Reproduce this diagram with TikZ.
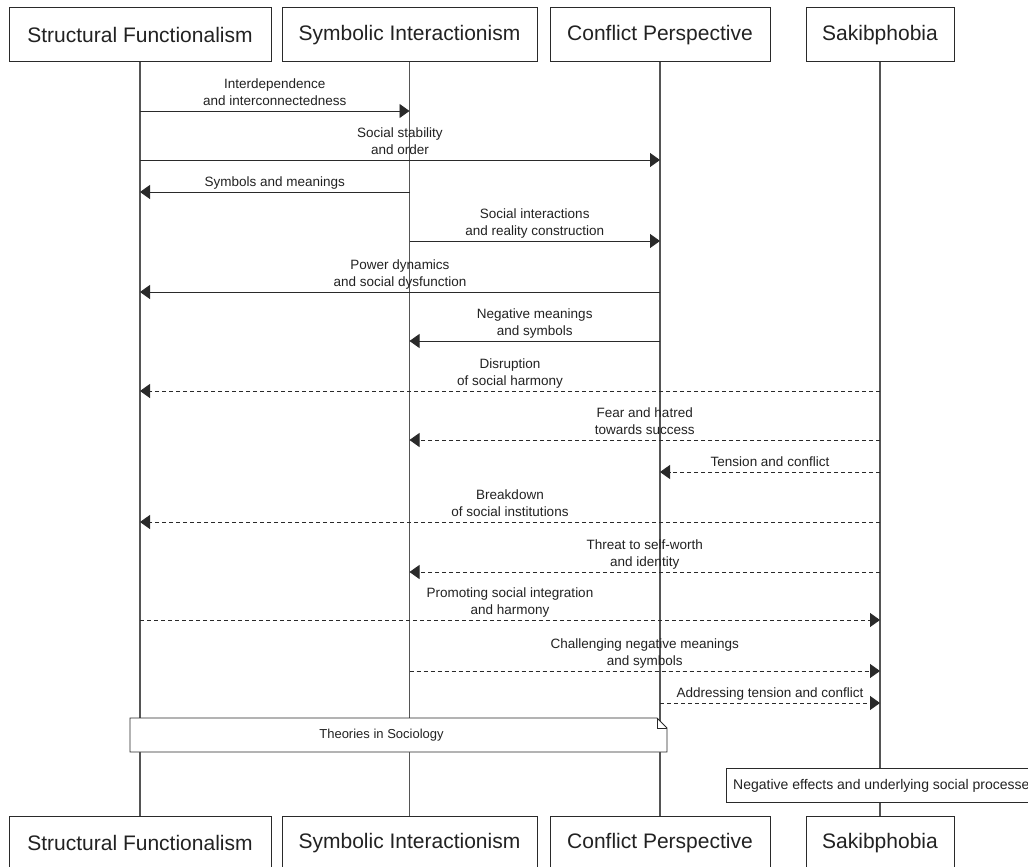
\documentclass[tikz,border=0pt]{standalone}
\usepackage{fontspec}
\setmainfont{Liberation Sans}
\usetikzlibrary{arrows.meta}
\definecolor{txt}{HTML}{222222}
\definecolor{ln}{HTML}{2A2A2A}
\definecolor{life}{HTML}{555555}
\begin{document}
\begin{tikzpicture}[x=1pt,y=-1pt,
  part/.style={draw=ln, line width=1pt, fill=white, minimum height=54pt, inner sep=0pt,
    font=\fontsize{21}{24}\selectfont, text=txt},
  msg/.style={draw=ln, line width=0.9pt, -{Triangle[length=10pt,width=14pt]}},
  dmsg/.style={msg, dash pattern=on 4pt off 3pt},
  lbl/.style={font=\fontsize{13.5}{17}\selectfont, text=txt, align=center, inner sep=0pt,
    anchor=south, text depth=3pt},
  lifeline/.style={draw=life, line width=1.1pt},
  notebox/.style={draw=ln, line width=0.9pt, fill=white},
  notetxt/.style={font=\fontsize{13}{16}\selectfont, text=txt, inner sep=0pt}]

\useasboundingbox (0,0) rectangle (1028,867);
\clip (0,0) rectangle (1028,867);
\fill[white] (0,0) rectangle (1028,867);

% participants (top and bottom)
\node[part, minimum width=262pt] (sfT) at (140,35) {Structural Functionalism};
\node[part, minimum width=255pt] (siT) at (409.5,35) {Symbolic Interactionism};
\node[part, minimum width=220pt] (cpT) at (660,35) {Conflict Perspective};
\node[part, minimum width=148pt] (skT) at (880,35) {Sakibphobia};

\node[part, minimum width=262pt] (sfB) at (140,843) {Structural Functionalism};
\node[part, minimum width=255pt] (siB) at (409.5,843) {Symbolic Interactionism};
\node[part, minimum width=220pt] (cpB) at (660,843) {Conflict Perspective};
\node[part, minimum width=148pt] (skB) at (880,843) {Sakibphobia};

% lifelines
\draw[lifeline] (sfT.south) -- (sfB.north);
\draw[lifeline] (siT.south) -- (siB.north);
\draw[lifeline] (cpT.south) -- (cpB.north);
\draw[lifeline] (skT.south) -- (skB.north);

% message end points on the lifelines
\def\xsf{140}\def\xsi{409.5}\def\xcp{660}\def\xsk{880}
\coordinate (m1a) at (\xsf,111);  \coordinate (m1b) at (\xsi,111);
\coordinate (m2a) at (\xsf,160);  \coordinate (m2b) at (\xcp,160);
\coordinate (m3a) at (\xsi,192);  \coordinate (m3b) at (\xsf,192);
\coordinate (m4a) at (\xsi,241);  \coordinate (m4b) at (\xcp,241);
\coordinate (m5a) at (\xcp,292);  \coordinate (m5b) at (\xsf,292);
\coordinate (m6a) at (\xcp,341);  \coordinate (m6b) at (\xsi,341);
\coordinate (m7a) at (\xsk,391);  \coordinate (m7b) at (\xsf,391);
\coordinate (m8a) at (\xsk,440);  \coordinate (m8b) at (\xsi,440);
\coordinate (m9a) at (\xsk,472);  \coordinate (m9b) at (\xcp,472);
\coordinate (m10a) at (\xsk,522); \coordinate (m10b) at (\xsf,522);
\coordinate (m11a) at (\xsk,572); \coordinate (m11b) at (\xsi,572);
\coordinate (m12a) at (\xsf,620); \coordinate (m12b) at (\xsk,620);
\coordinate (m13a) at (\xsi,671); \coordinate (m13b) at (\xsk,671);
\coordinate (m14a) at (\xcp,703); \coordinate (m14b) at (\xsk,703);

% messages
\draw[msg] (m1a) -- node[lbl, midway, yshift=2.5pt] {Interdependence\\and interconnectedness} (m1b);
\draw[msg] (m2a) -- node[lbl, midway, yshift=2.5pt] {Social stability\\and order} (m2b);
\draw[msg] (m3a) -- node[lbl, midway, yshift=2.5pt] {Symbols and meanings} (m3b);
\draw[msg] (m4a) -- node[lbl, midway, yshift=2.5pt] {Social interactions\\and reality construction} (m4b);
\draw[msg] (m5a) -- node[lbl, midway, yshift=2.5pt] {Power dynamics\\and social dysfunction} (m5b);
\draw[msg] (m6a) -- node[lbl, midway, yshift=2.5pt] {Negative meanings\\and symbols} (m6b);
\draw[dmsg] (m7a) -- node[lbl, midway, yshift=2.5pt] {Disruption\\of social harmony} (m7b);
\draw[dmsg] (m8a) -- node[lbl, midway, yshift=2.5pt] {Fear and hatred\\towards success} (m8b);
\draw[dmsg] (m9a) -- node[lbl, midway, yshift=2.5pt] {Tension and conflict} (m9b);
\draw[dmsg] (m10a) -- node[lbl, midway, yshift=2.5pt] {Breakdown\\of social institutions} (m10b);
\draw[dmsg] (m11a) -- node[lbl, midway, yshift=2.5pt] {Threat to self-worth\\and identity} (m11b);
\draw[dmsg] (m12a) -- node[lbl, midway, yshift=2.5pt] {Promoting social integration\\and harmony} (m12b);
\draw[dmsg] (m13a) -- node[lbl, midway, yshift=2.5pt] {Challenging negative meanings\\and symbols} (m13b);
\draw[dmsg] (m14a) -- node[lbl, midway, yshift=2.5pt] {Addressing tension and conflict} (m14b);

% note over the three theories
\draw[notebox] (130,718) -- (657,718) -- (667,728) -- (667,752) -- (130,752) -- cycle;
\draw[ln, line width=0.9pt] (657,718) -- (657,728) -- (667,728);
\node[notetxt] (theo) at (381.5,735.5) {Theories in Sociology};

% note over Sakibphobia (runs past the right edge)
\draw[notebox] (726,768) rectangle (1060,802);
\node[notetxt, font=\fontsize{14}{17}\selectfont, anchor=west] (neg) at (733,785.5) {Negative effects and underlying social processes};

\end{tikzpicture}
\end{document}
